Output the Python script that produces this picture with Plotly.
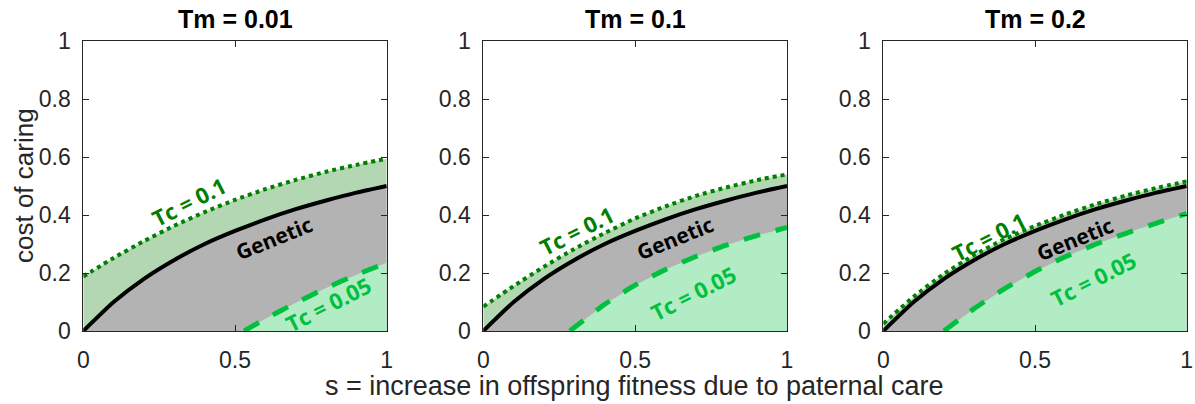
import plotly.graph_objects as go

# ---- data ----
s_grid = [0, 0.1, 0.2, 0.3, 0.4, 0.5, 0.6, 0.7, 0.8, 0.9, 1.0]
genetic = [0, 0.1, 0.18, 0.245, 0.3, 0.345, 0.385, 0.42, 0.45, 0.477, 0.5]

panel_titles = ["Tm = 0.01", "Tm = 0.1", "Tm = 0.2"]

tc01 = [
    [0.188, 0.252, 0.31, 0.363, 0.41, 0.452, 0.489, 0.521, 0.549, 0.573, 0.594],
    [0.084, 0.155, 0.222, 0.283, 0.338, 0.388, 0.43, 0.466, 0.495, 0.52, 0.54],
    [0.025, 0.118, 0.197, 0.262, 0.317, 0.362, 0.402, 0.437, 0.467, 0.493, 0.516],
]

tc005_s = [
    [0.53, 0.6, 0.7, 0.8, 0.9, 1.0],
    [0.285, 0.4, 0.5, 0.6, 0.7, 0.8, 0.9, 1.0],
    [0.2, 0.3, 0.4, 0.5, 0.6, 0.7, 0.8, 0.9, 1.0],
]
tc005_y = [
    [0, 0.042, 0.097, 0.148, 0.194, 0.235],
    [0, 0.092, 0.158, 0.212, 0.257, 0.296, 0.329, 0.357],
    [0, 0.078, 0.146, 0.205, 0.256, 0.299, 0.337, 0.372, 0.405],
]

# label anchor positions (data coords) for each panel
gen_lbl = [(0.63, 0.32), (0.632, 0.32), (0.632, 0.316)]
tc01_lbl = [(0.35, 0.448), (0.31, 0.347), (0.35, 0.327)]
tc005_lbl = [(0.807, 0.094), (0.69, 0.132), (0.69, 0.18)]

y_ticks = [0, 0.2, 0.4, 0.6, 0.8, 1]
y_ticklabels = ["0", "0.2", "0.4", "0.6", "0.8", "1"]
x_ticks = [0, 0.5, 1]
x_ticklabels = ["0", "0.5", "1"]

# ---- styling ----
W, H = 1195, 404
GRAY_FILL = "rgb(179,179,179)"
GREEN_FILL = "rgb(179,215,179)"
MINT_FILL = "rgb(178,236,196)"
DARK_GREEN = "rgb(0,128,0)"
BRIGHT_GREEN = "rgb(0,192,64)"
AX = "#262626"

x_px = [(83.3, 386.7), (483.3, 787.0), (883.3, 1186.7)]
y_px = (41, 331)

fig = go.Figure()
layout = dict(
    width=W, height=H, margin=dict(l=0, r=0, t=0, b=0, autoexpand=False),
    paper_bgcolor="white", plot_bgcolor="white", showlegend=False,
    hovermode=False,
)
annotations = []

for i in range(3):
    xa = "x" if i == 0 else f"x{i+1}"
    ya = "y" if i == 0 else f"y{i+1}"
    # fills
    fig.add_trace(go.Scatter(x=s_grid, y=tc01[i], xaxis=xa, yaxis=ya, mode="none",
                             fill="tozeroy", fillcolor=GREEN_FILL))
    fig.add_trace(go.Scatter(x=s_grid, y=genetic, xaxis=xa, yaxis=ya, mode="none",
                             fill="tozeroy", fillcolor=GRAY_FILL))
    fig.add_trace(go.Scatter(x=tc005_s[i], y=tc005_y[i], xaxis=xa, yaxis=ya, mode="none",
                             fill="tozeroy", fillcolor=MINT_FILL))
    # lines
    fig.add_trace(go.Scatter(x=s_grid, y=genetic, xaxis=xa, yaxis=ya, mode="lines",
                             line=dict(color="black", width=4, shape="spline", smoothing=0.6)))
    fig.add_trace(go.Scatter(x=s_grid, y=tc01[i], xaxis=xa, yaxis=ya, mode="lines",
                             line=dict(color=DARK_GREEN, width=4, dash="dot", shape="spline", smoothing=0.6)))
    fig.add_trace(go.Scatter(x=tc005_s[i], y=tc005_y[i], xaxis=xa, yaxis=ya, mode="lines",
                             line=dict(color=BRIGHT_GREEN, width=5, dash="17px,16px", shape="spline", smoothing=0.6)))

    kx = "xaxis" if i == 0 else f"xaxis{i+1}"
    ky = "yaxis" if i == 0 else f"yaxis{i+1}"
    layout[kx] = dict(
        domain=[x_px[i][0] / W, x_px[i][1] / W], range=[0, 1], anchor=ya,
        tickvals=x_ticks, ticktext=x_ticklabels, ticks="inside", ticklen=6,
        tickcolor=AX, showline=True, linecolor=AX, linewidth=1, mirror="ticks",
        showgrid=False, zeroline=False, fixedrange=True, automargin=False,
        tickfont=dict(family="Liberation Sans, Arial", size=23, color=AX),
        ticklabelstandoff=8,
    )
    layout[ky] = dict(
        domain=[(H - y_px[1]) / H, (H - y_px[0]) / H], range=[0, 1], anchor=xa,
        tickvals=y_ticks, ticktext=y_ticklabels, ticks="inside", ticklen=6,
        tickcolor=AX, showline=True, linecolor=AX, linewidth=1, mirror="ticks",
        showgrid=False, zeroline=False, fixedrange=True, automargin=False,
        tickfont=dict(family="Liberation Sans, Arial", size=23, color=AX),
        ticklabelstandoff=7,
    )

    # panel title
    annotations.append(dict(
        text=f"<b>{panel_titles[i]}</b>", xref="paper", yref="paper",
        x=(x_px[i][0] + x_px[i][1]) / 2 / W, y=1 - 19 / H, xanchor="center", yanchor="middle",
        showarrow=False, font=dict(family="Liberation Sans, Arial", size=25, color="black"),
    ))
    # curve labels
    annotations.append(dict(
        text="<b>Genetic</b>", xref=xa, yref=ya, x=gen_lbl[i][0], y=gen_lbl[i][1],
        textangle=-22, showarrow=False,
        font=dict(family="Open Sans", size=21, color="black"),
    ))
    annotations.append(dict(
        text="<b>Tc = 0.1</b>", xref=xa, yref=ya, x=tc01_lbl[i][0], y=tc01_lbl[i][1],
        textangle=-27, showarrow=False,
        font=dict(family="Open Sans", size=22, color=DARK_GREEN),
    ))
    annotations.append(dict(
        text="<b>Tc = 0.05</b>", xref=xa, yref=ya, x=tc005_lbl[i][0], y=tc005_lbl[i][1],
        textangle=-27, showarrow=False,
        font=dict(family="Open Sans", size=22, color=BRIGHT_GREEN),
    ))

annotations.append(dict(
    text="cost of caring", xref="paper", yref="paper", x=24 / W, y=(H - 186) / H,
    xanchor="center", yanchor="middle", textangle=-90, showarrow=False,
    font=dict(family="Liberation Sans, Arial", size=26, color=AX),
))
annotations.append(dict(
    text="s = increase in offspring fitness due to paternal care", xref="paper", yref="paper",
    x=634 / W, y=(H - 386) / H, xanchor="center", yanchor="middle", showarrow=False,
    font=dict(family="Liberation Sans, Arial", size=27, color=AX),
))

layout["annotations"] = annotations
fig.update_layout(**layout)
fig.write_html("out.html")
